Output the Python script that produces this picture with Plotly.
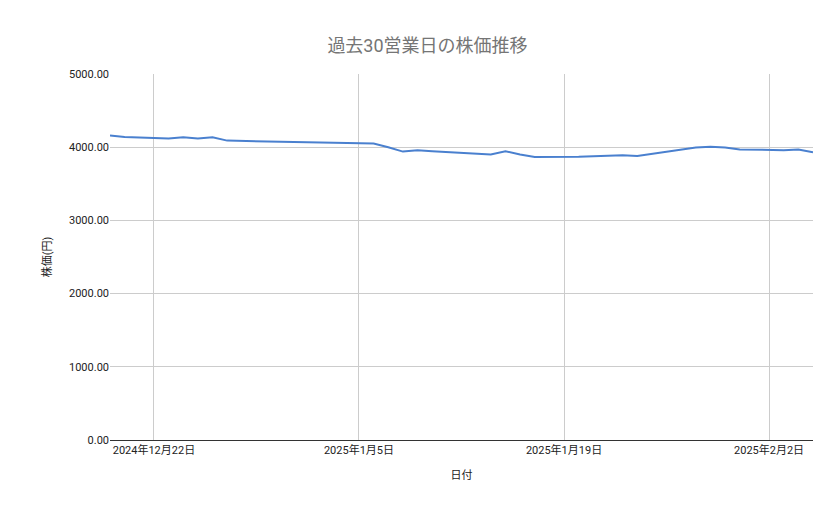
import plotly.graph_objects as go

dates = ["2024-12-19", "2024-12-20", "2024-12-23", "2024-12-24", "2024-12-25", "2024-12-26", "2024-12-27",
         "2025-01-06", "2025-01-07", "2025-01-08", "2025-01-09", "2025-01-10",
         "2025-01-14", "2025-01-15", "2025-01-16", "2025-01-17",
         "2025-01-20", "2025-01-21", "2025-01-22", "2025-01-23", "2025-01-24",
         "2025-01-27", "2025-01-28", "2025-01-29", "2025-01-30", "2025-01-31",
         "2025-02-03", "2025-02-04", "2025-02-05"]
prices = [4160, 4140, 4120, 4135, 4120, 4135, 4090,
          4050, 4000, 3940, 3960, 3945,
          3900, 3945, 3900, 3865,
          3870, 3875, 3890, 3890, 3880,
          3960, 3995, 4005, 3995, 3970,
          3960, 3970, 3930]
tick_vals = ["2024-12-22", "2025-01-05", "2025-01-19", "2025-02-02"]
tick_text = ["2024年12月22日", "2025年1月5日", "2025年1月19日", "2025年2月2日"]

font = "Roboto, 'Noto Sans CJK JP', sans-serif"

fig = go.Figure()
fig.add_trace(go.Scatter(x=dates, y=prices, mode="lines",
                         line=dict(color="#4a80cf", width=2)))

fig.update_layout(
    width=839, height=519,
    paper_bgcolor="white", plot_bgcolor="white",
    margin=dict(l=102, r=34, t=66, b=87),
    showlegend=False,
    font=dict(family=font, size=11, color="#222"),
    title=dict(text="過去30営業日の株価推移", x=0.5, xanchor="center", y=0.94,
               font=dict(size=18, color="#757575")),
    xaxis=dict(range=["2024-12-19", "2025-02-05"], tickvals=tick_vals, ticktext=tick_text,
               showgrid=True, gridcolor="#cccccc", linecolor="#333", showline=True,
               title=dict(text="日付", font=dict(size=11)), ticks=""),
    yaxis=dict(range=[0, 5000], dtick=1000, tickformat=".2f",
               showgrid=True, gridcolor="#cccccc", zeroline=False,
               title=dict(text="株価(円)", font=dict(size=11)), ticks=""),
)
fig.write_html("out.html")
